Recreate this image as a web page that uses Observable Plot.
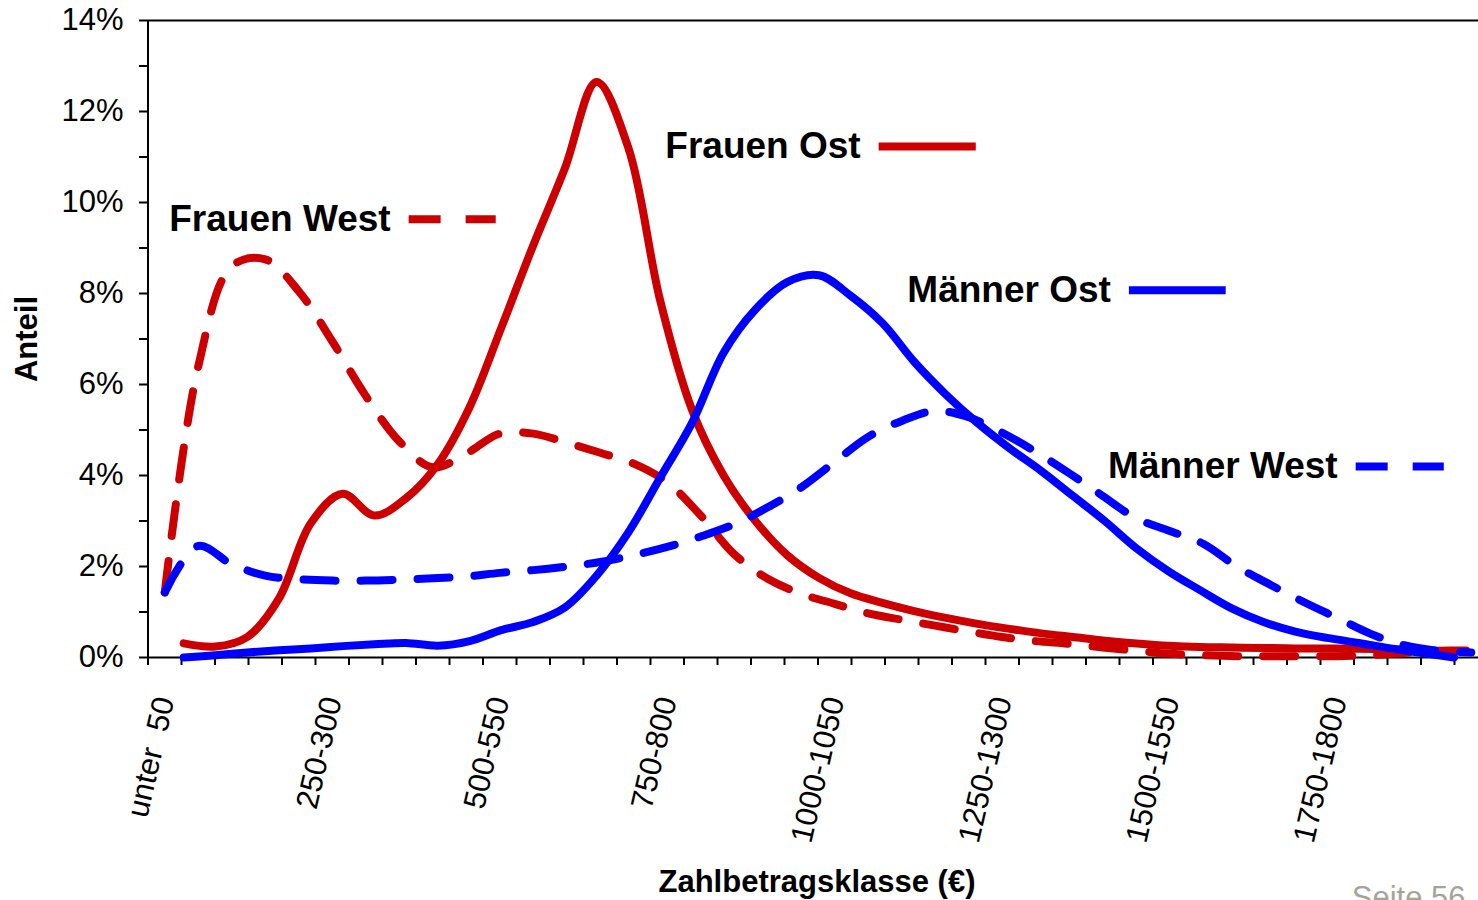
<!DOCTYPE html>
<html>
<head>
<meta charset="utf-8">
<script src="https://cdn.jsdelivr.net/npm/d3@7"></script>
<script src="https://cdn.jsdelivr.net/npm/@observablehq/plot@0.6"></script>
<style>
  html, body { margin: 0; padding: 0; background: #ffffff; overflow: hidden; }
</style>
</head>
<body>
<div id="chart"></div>
<script>
// ---------------- DATA ----------------
// Zahlbetragsklassen (€) of the category axis
const categories = [
  "unter  50", "50-100", "100-150", "150-200", "200-250",
  "250-300", "300-350", "350-400", "400-450", "450-500",
  "500-550", "550-600", "600-650", "650-700", "700-750",
  "750-800", "800-850", "850-900", "900-950", "950-1000",
  "1000-1050", "1050-1100", "1100-1150", "1150-1200", "1200-1250",
  "1250-1300", "1300-1350", "1350-1400", "1400-1450", "1450-1500",
  "1500-1550", "1550-1600", "1600-1650", "1650-1700", "1700-1750",
  "1750-1800", "1800-1850", "1850-1900", "1900-1950", "1950-2000"
];
// category indices that carry a visible label
const labeledCategories = [0, 5, 10, 15, 20, 25, 30, 35];

// Anteil in % — West series (one value per category)
const frauenWest = [
  1.43, 6.4, 8.6, 8.75, 8.05, 6.95, 5.75, 4.75, 4.18, 4.48,
  4.92, 4.92, 4.72, 4.5, 4.26, 3.85, 3.12, 2.27, 1.73, 1.4,
  1.18, 0.97, 0.83, 0.7, 0.57, 0.45, 0.36, 0.3, 0.22, 0.15,
  0.08, 0.05, 0.03, 0.03, 0.03, 0.03, 0.05, 0.1, 0.15, 0.15
];
const maennerWest = [
  1.43, 2.45, 2.05, 1.8, 1.72, 1.69, 1.69, 1.71, 1.74, 1.78,
  1.86, 1.92, 2.0, 2.1, 2.25, 2.43, 2.66, 2.93, 3.3, 3.74,
  4.3, 4.85, 5.2, 5.42, 5.28, 4.94, 4.52, 4.05, 3.55, 3.06,
  2.78, 2.5, 2.0, 1.6, 1.22, 0.87, 0.52, 0.27, 0.15, 0.11
];
// Anteil in % — Ost series (overlaid Ost chart, its own class grid of 41 points)
const frauenOst = [
  0.31, 0.24, 0.45, 1.3, 2.95, 3.6, 3.12, 3.5, 4.25, 5.5,
  7.25, 9.05, 10.75, 12.65, 11.2, 7.85, 5.45, 4.0, 3.0, 2.25,
  1.75, 1.41, 1.2, 1.02, 0.87, 0.74, 0.63, 0.53, 0.45, 0.37,
  0.31, 0.26, 0.23, 0.22, 0.21, 0.2, 0.2, 0.19, 0.18, 0.16, 0.12
];
const maennerOst = [
  0.0, 0.05, 0.11, 0.16, 0.2, 0.25, 0.29, 0.32, 0.26, 0.36,
  0.6, 0.78, 1.1, 1.8, 2.75, 3.95, 5.15, 6.7, 7.65, 8.25,
  8.4, 7.95, 7.35, 6.5, 5.78, 5.15, 4.6, 4.1, 3.55, 3.0,
  2.4, 1.9, 1.48, 1.08, 0.78, 0.57, 0.43, 0.32, 0.2, 0.1, 0.0
];

const yMajor = [0, 2, 4, 6, 8, 10, 12, 14];
const yMinor = [1, 3, 5, 7, 9, 11, 13];

// ---------------- LAYOUT / STYLE ----------------
const RED = "#cc0000";
const BLUE = "#0000ff";
const FONT = "'Liberation Sans', Arial, Helvetica, sans-serif";
// the Ost curves sit on a slightly different grid (in units of the West categories)
const ostGrid = { start: 0.567, step: 0.948 };

const legendItems = [
  { label: "Frauen West", x1: 7.28, x2: 9.88, y: 9.63, color: RED, dashed: true },
  { label: "Frauen Ost", x1: 21.31, x2: 24.21, y: 11.23, color: RED, dashed: false },
  { label: "Männer Ost", x1: 28.78, x2: 31.67, y: 8.07, color: BLUE, dashed: false },
  { label: "Männer West", x1: 35.55, x2: 38.18, y: 4.2, color: BLUE, dashed: true }
];

// long-format rows built from the arrays
function westRows(values, name) {
  return values.map((v, i) => ({ series: name, pos: i, v }));
}
function ostRows(values, name) {
  return values.map((v, j) => ({ series: name, pos: ostGrid.start + j * ostGrid.step, v }));
}
const rowsFW = westRows(frauenWest, "Frauen West");
const rowsMW = westRows(maennerWest, "Männer West");
const rowsFO = ostRows(frauenOst, "Frauen Ost");
const rowsMO = ostRows(maennerOst, "Männer Ost");

const boundaries = d3.range(categories.length + 1).map(k => k - 0.5);
const DASH = "32,25";
const LW = 8;

const chart = Plot.plot({
  width: 1478,
  height: 900,
  marginLeft: 147,
  marginRight: 0,
  marginTop: 20,
  marginBottom: 243,
  style: { fontFamily: FONT, background: "#ffffff", color: "#000000", overflow: "hidden" },
  x: { type: "linear", domain: [-0.5, 39.5], range: [147.5, 1487.5] },
  y: { type: "linear", domain: [0, 14], range: [657, 20] },
  marks: [
    // axes frame
    Plot.ruleY([0], { stroke: "#000", strokeWidth: 2 }),
    Plot.ruleY([14], { stroke: "#000", strokeWidth: 2 }),
    Plot.ruleX([-0.5], { stroke: "#000", strokeWidth: 2 }),
    // y axis
    Plot.axisY({ ticks: yMajor, tickFormat: d => d + "%", tickSize: 8, tickPadding: 16,
                 fontSize: 31, strokeWidth: 2, label: null }),
    Plot.axisY({ ticks: yMinor, tickFormat: () => "", tickSize: 8, strokeWidth: 2, label: null }),
    // x axis ticks at category boundaries
    Plot.axisX({ ticks: boundaries, tickFormat: () => "", tickSize: 8, strokeWidth: 2, label: null }),
    // x tick labels (every fifth class), slanted
    Plot.text(labeledCategories, {
      x: d => d, text: d => categories[d], frameAnchor: "bottom", dy: 40,
      rotate: -77, textAnchor: "end", lineAnchor: "middle", fontSize: 31, fill: "#000"
    }),
    // series
    Plot.line(rowsFW, { x: "pos", y: "v", stroke: RED, strokeWidth: LW, strokeDasharray: DASH,
                        curve: "catmull-rom", strokeLinejoin: "round" }),
    Plot.line(rowsFO, { x: "pos", y: "v", stroke: RED, strokeWidth: LW,
                        curve: "catmull-rom", strokeLinejoin: "round" }),
    Plot.line(rowsMO, { x: "pos", y: "v", stroke: BLUE, strokeWidth: LW,
                        curve: "catmull-rom", strokeLinejoin: "round" }),
    Plot.line(rowsMW, { x: "pos", y: "v", stroke: BLUE, strokeWidth: LW, strokeDasharray: DASH,
                        curve: "catmull-rom", strokeLinejoin: "round" }),
    // in-chart legend
    Plot.link(legendItems.filter(d => !d.dashed), { x1: "x1", x2: "x2", y1: "y", y2: "y",
                        stroke: "color", strokeWidth: 8 }),
    Plot.link(legendItems.filter(d => d.dashed), { x1: "x1", x2: "x2", y1: "y", y2: "y",
                        stroke: "color", strokeWidth: 8, strokeDasharray: DASH }),
    Plot.text(legendItems, { x: "x1", y: "y", text: "label", dx: -18, textAnchor: "end",
                        lineAnchor: "middle", fontSize: 37, fontWeight: "bold", fill: "#000" }),
    // axis titles
    Plot.text(["Anteil"], { frameAnchor: "left", dx: -120, rotate: -90, textAnchor: "middle",
                            lineAnchor: "middle", fontSize: 31, fontWeight: "bold", fill: "#000" }),
    Plot.text(["Zahlbetragsklasse (€)"], { frameAnchor: "bottom", dx: 4, dy: 234, fontSize: 31,
                            textAnchor: "middle", fontWeight: "bold", fill: "#000" }),
    Plot.text(["Seite 56"], { frameAnchor: "bottom-right", dx: -13, dy: 250, textAnchor: "end",
                            lineAnchor: "bottom", fontSize: 31, fill: "#a5a597" })
  ]
});
document.getElementById("chart").appendChild(chart);
</script>
</body>
</html>
